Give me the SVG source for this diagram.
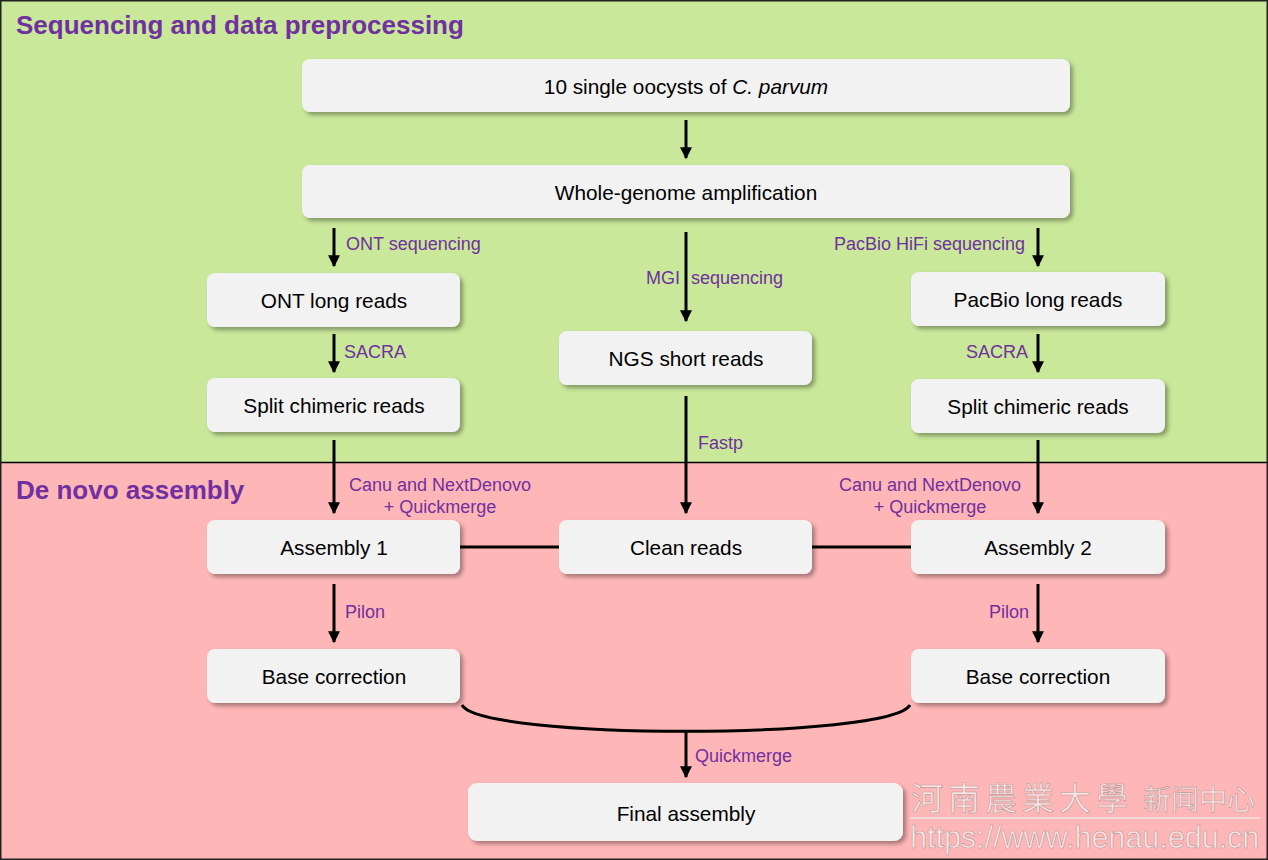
<svg xmlns="http://www.w3.org/2000/svg" width="1268" height="860" viewBox="0 0 1268 860">
<defs>
<marker id="ah" viewBox="0 0 10 10" refX="9" refY="5" markerWidth="4" markerHeight="4" orient="auto" markerUnits="strokeWidth">
<path d="M0,0 L10,5 L0,10 z" fill="#000"/>
</marker>
<filter id="sh" x="-10%" y="-20%" width="120%" height="150%">
<feDropShadow dx="3" dy="3" stdDeviation="2" flood-color="#000" flood-opacity="0.35"/>
</filter>
</defs>
<style>
.box{fill:#f2f2f2;filter:url(#sh)}
.t{font-family:"Liberation Sans",Arial,sans-serif;font-size:20.8px;fill:#000;text-anchor:middle;dominant-baseline:central}
.lb{font-family:"Liberation Sans",Arial,sans-serif;font-size:18px;fill:#7030a0}
.title{font-family:"Liberation Sans",Arial,sans-serif;font-size:26px;font-weight:bold;fill:#7030a0}
.ln{stroke:#000;stroke-width:3;fill:none}
.ar{stroke:#000;stroke-width:3;fill:none;marker-end:url(#ah)}
.wm{fill:#fbe6e6;stroke:#b89a9a;stroke-width:0.6}
</style>
<rect x="0" y="0" width="1268" height="463" fill="#c9e89a"/>
<rect x="0" y="463" width="1268" height="397" fill="#ffb6b6"/>
<line x1="0" y1="462.5" x2="1268" y2="462.5" stroke="#000" stroke-width="1.5"/>
<rect x="0.5" y="0.5" width="1267" height="859" fill="none" stroke="#222" stroke-width="2"/>
<text class="title" x="16" y="34">Sequencing and data preprocessing</text>
<text class="title" x="16" y="499">De novo assembly</text>

<g id="connectors">
<line class="ar" x1="686" y1="120" x2="686" y2="158"/>
<line class="ar" x1="334" y1="228" x2="334" y2="266"/>
<line class="ar" x1="686" y1="232" x2="686" y2="321"/>
<line class="ar" x1="1038" y1="228" x2="1038" y2="266"/>
<line class="ar" x1="334" y1="334" x2="334" y2="372"/>
<line class="ar" x1="1038" y1="334" x2="1038" y2="372"/>
<line class="ar" x1="334" y1="440" x2="334" y2="513"/>
<line class="ar" x1="1038" y1="440" x2="1038" y2="513"/>
<line class="ar" x1="686" y1="396" x2="686" y2="513"/>
<line class="ln" x1="460" y1="547" x2="559" y2="547"/>
<line class="ln" x1="812" y1="547" x2="911" y2="547"/>
<line class="ar" x1="334" y1="584" x2="334" y2="642"/>
<line class="ar" x1="1038" y1="584" x2="1038" y2="642"/>
<path class="ln" d="M462,705 C480,740 890,740 910,705"/>
<line class="ar" x1="686" y1="732" x2="686" y2="777"/>
<text class="lb" x="346" y="250">ONT sequencing</text>
<text class="lb" x="646" y="284">MGI</text>
<text class="lb" x="691" y="284">sequencing</text>
<text class="lb" x="1025" y="250" text-anchor="end">PacBio HiFi sequencing</text>
<text class="lb" x="344" y="358">SACRA</text>
<text class="lb" x="1028" y="358" text-anchor="end">SACRA</text>
<text class="lb" x="698" y="449">Fastp</text>
<text class="lb" x="440" y="491" text-anchor="middle">Canu and NextDenovo</text>
<text class="lb" x="440" y="513" text-anchor="middle">+ Quickmerge</text>
<text class="lb" x="930" y="491" text-anchor="middle">Canu and NextDenovo</text>
<text class="lb" x="930" y="513" text-anchor="middle">+ Quickmerge</text>
<text class="lb" x="345" y="618">Pilon</text>
<text class="lb" x="1029" y="618" text-anchor="end">Pilon</text>
<text class="lb" x="695" y="762">Quickmerge</text>
</g>

<g id="n1"><rect class="box" x="302" y="59" width="768" height="53" rx="8"/><text class="t" x="686" y="86">10 single oocysts of <tspan font-style="italic">C. parvum</tspan></text></g>
<g id="n2"><rect class="box" x="302" y="165" width="768" height="53" rx="8"/><text class="t" x="686" y="192">Whole-genome amplification</text></g>
<g id="n3"><rect class="box" x="207" y="273" width="253" height="54" rx="8"/><text class="t" x="334" y="300">ONT long reads</text></g>
<g id="n4"><rect class="box" x="559" y="331" width="253" height="54" rx="8"/><text class="t" x="686" y="358">NGS short reads</text></g>
<g id="n5"><rect class="box" x="911" y="272" width="254" height="54" rx="8"/><text class="t" x="1038" y="299">PacBio long reads</text></g>
<g id="n6"><rect class="box" x="207" y="378" width="253" height="54" rx="8"/><text class="t" x="334" y="405">Split chimeric reads</text></g>
<g id="n7"><rect class="box" x="911" y="379" width="254" height="54" rx="8"/><text class="t" x="1038" y="406">Split chimeric reads</text></g>
<g id="n8"><rect class="box" x="207" y="520" width="253" height="54" rx="8"/><text class="t" x="334" y="547">Assembly 1</text></g>
<g id="n9"><rect class="box" x="559" y="520" width="253" height="54" rx="8"/><text class="t" x="686" y="547">Clean reads</text></g>
<g id="n10"><rect class="box" x="911" y="520" width="254" height="54" rx="8"/><text class="t" x="1038" y="547">Assembly 2</text></g>
<g id="n11"><rect class="box" x="207" y="649" width="253" height="54" rx="8"/><text class="t" x="334" y="676">Base correction</text></g>
<g id="n12"><rect class="box" x="911" y="649" width="254" height="54" rx="8"/><text class="t" x="1038" y="676">Base correction</text></g>
<g id="n13"><rect class="box" x="468" y="783" width="435" height="58" rx="9"/><text class="t" x="686" y="813">Final assembly</text></g>

<g id="watermark">
<text class="wm" x="911" y="810" font-size="32" letter-spacing="5" style="font-family:'Noto Sans CJK SC',sans-serif">河南農業大學</text>
<text class="wm" x="1143" y="810" font-size="28" style="font-family:'Noto Sans CJK SC',sans-serif">新闻中心</text>
<line x1="910" y1="818" x2="1260" y2="818" stroke="#f4e0e0" stroke-width="1.5"/>
<text class="wm" x="910" y="848" font-size="30.5" style="font-family:'Liberation Sans',Arial,sans-serif">https://www.henau.edu.cn</text>
</g>
</svg>
